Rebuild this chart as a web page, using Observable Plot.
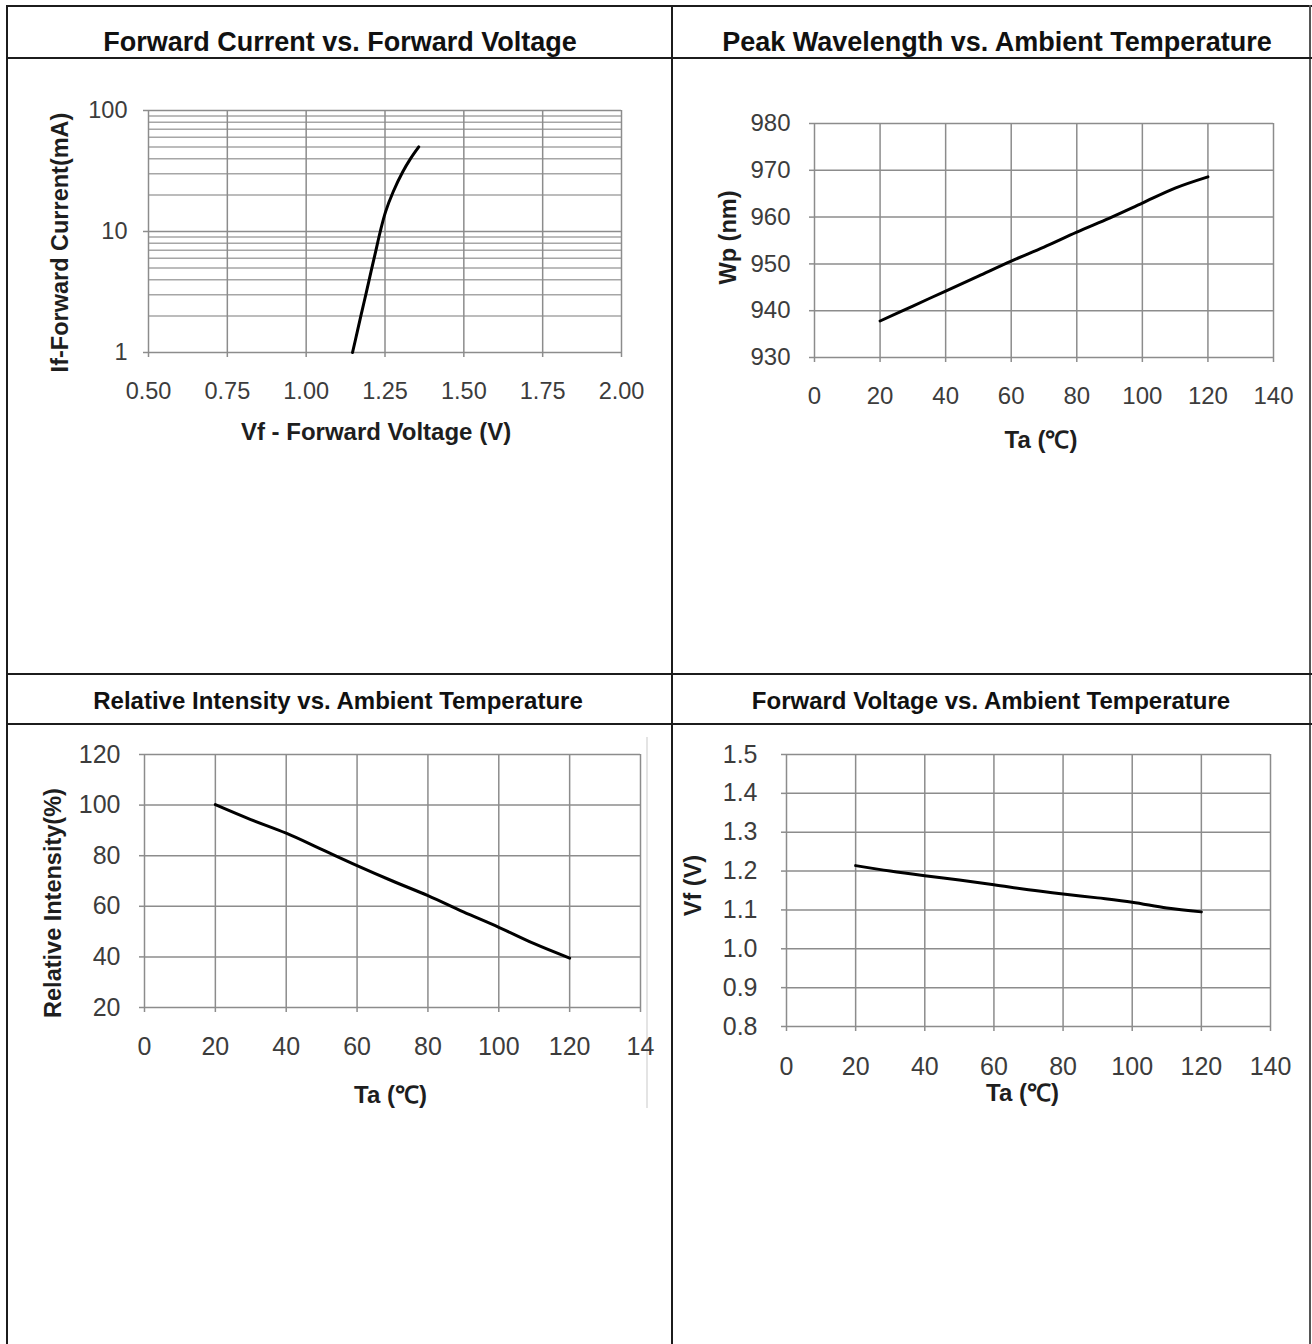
<!DOCTYPE html>
<html>
<head>
<meta charset="utf-8">
<script src="https://cdn.jsdelivr.net/npm/d3@7"></script>
<script src="https://cdn.jsdelivr.net/npm/@observablehq/plot@0.6"></script>
<style>
  body { margin: 0; background: #fff; font-family: "Liberation Sans", Arial, sans-serif; }
  #page { position: relative; width: 1312px; height: 1344px; overflow: hidden; background: #fff; }
  .ln { position: absolute; background: #1c1c1c; }
  .title { position: absolute; font-weight: bold; color: #111; white-space: nowrap;
           transform: translate(-50%, -50%); font-family: "Liberation Sans", Arial, sans-serif; }
  .top { font-size: 27px; }
  .bot { font-size: 24px; }
  .chart { position: absolute; }
</style>
</head>
<body>
<div id="page">
  <div class="ln" style="left:6px;top:5px;width:1306px;height:2px;"></div>
  <div class="ln" style="left:6px;top:5px;width:2px;height:1339px;"></div>
  <div class="ln" style="left:1309px;top:5px;width:2px;height:1339px;background:#555;"></div>
  <div class="ln" style="left:671px;top:5px;width:2px;height:1339px;"></div>
  <div class="ln" style="left:6px;top:57px;width:1306px;height:2px;"></div>
  <div class="ln" style="left:6px;top:673px;width:1306px;height:2px;"></div>
  <div class="ln" style="left:6px;top:723px;width:1306px;height:2px;"></div>
  <div class="ln" style="left:646px;top:737px;width:2px;height:371px;background:#e4e4e4;"></div>
  <div class="title top" style="left:340px;top:42px;">Forward Current vs. Forward Voltage</div>
  <div class="title top" style="left:997px;top:42px;">Peak Wavelength vs. Ambient Temperature</div>
  <div class="title bot" style="left:338px;top:701px;">Relative Intensity vs. Ambient Temperature</div>
  <div class="title bot" style="left:991px;top:701px;">Forward Voltage vs. Ambient Temperature</div>
  <div id="c1" class="chart"></div>
  <div id="c2" class="chart"></div>
  <div id="c3" class="chart"></div>
  <div id="c4" class="chart"></div>
</div>
<script>
// ---------- data ----------
// Chart 1: Forward current vs forward voltage
const ivVoltage = [1.147, 1.1625, 1.177, 1.1915, 1.206, 1.2205, 1.235, 1.252, 1.276, 1.306, 1.331, 1.357];
const ivCurrent = [1, 1.5, 2.2, 3.2, 4.7, 6.85, 10, 14.6, 21.3, 31, 40, 50];
const ivXTicks = [0.5, 0.75, 1.0, 1.25, 1.5, 1.75, 2.0];
const ivYTicks = [1, 10, 100];
const ivYMinor = [2, 3, 4, 5, 6, 7, 8, 9, 20, 30, 40, 50, 60, 70, 80, 90];

// Chart 2: Peak wavelength vs ambient temperature
const wpTemp = [20, 30, 40, 50, 60, 70, 80, 90, 100, 110, 120];
const wpValue = [937.8, 941.0, 944.2, 947.4, 950.6, 953.6, 956.8, 959.8, 963.0, 966.2, 968.6];
const wpXTicks = [0, 20, 40, 60, 80, 100, 120, 140];
const wpYTicks = [930, 940, 950, 960, 970, 980];

// Chart 3: Relative intensity vs ambient temperature
const riTemp = [20, 30, 40, 50, 60, 70, 80, 90, 100, 110, 120];
const riValue = [100.2, 94.3, 88.9, 82.5, 76.1, 70.0, 64.2, 57.8, 51.7, 45.2, 39.5];
const riXTicks = [0, 20, 40, 60, 80, 100, 120, 140];
const riXLabels = ["0", "20", "40", "60", "80", "100", "120", "14"];
const riYTicks = [20, 40, 60, 80, 100, 120];

// Chart 4: Forward voltage vs ambient temperature
const vfTemp = [20, 30, 40, 50, 60, 70, 80, 90, 100, 110, 120];
const vfValue = [1.214, 1.200, 1.188, 1.177, 1.165, 1.152, 1.141, 1.131, 1.120, 1.105, 1.095];
const vfXTicks = [0, 20, 40, 60, 80, 100, 120, 140];
const vfYTicks = [0.8, 0.9, 1.0, 1.1, 1.2, 1.3, 1.4, 1.5];

// ---------- helpers ----------
const FONT = "'Liberation Sans', Arial, sans-serif";
const GRID = "#8c8c8c";
const TICKTXT = "#3c3c3c";

function place(id, box, area, plotOptions) {
  const el = document.getElementById(id);
  el.style.left = box.left + "px";
  el.style.top = box.top + "px";
  const chart = Plot.plot({
    width: box.width,
    height: box.height,
    marginLeft: area.x0 - box.left,
    marginRight: box.left + box.width - area.x1,
    marginTop: area.y0 - box.top,
    marginBottom: box.top + box.height - area.y1,
    style: { fontFamily: FONT, background: "transparent", overflow: "visible" },
    ...plotOptions
  });
  el.appendChild(chart);
}

function axisTitleX(text, dy, dx) {
  return Plot.text([text], { frameAnchor: "bottom", text: d => d, dy, dx,
    textAnchor: "middle", lineAnchor: "middle",
    fontSize: 24, fontWeight: "bold", fill: "#1e1e1e", fontFamily: FONT });
}
function axisTitleY(text, dx, dy) {
  return Plot.text([text], { frameAnchor: "left", text: d => d, dx, dy, rotate: -90,
    textAnchor: "middle", lineAnchor: "middle",
    fontSize: 23.5, fontWeight: "bold", fill: "#1e1e1e", fontFamily: FONT });
}
function axes(xTicks, yTicks, xFmt, yFmt, xPad, yPad, fs) {
  return [
    Plot.axisX(xTicks, { anchor: "bottom", tickSize: 5, tickPadding: xPad, tickFormat: xFmt,
      fontSize: fs, stroke: GRID, strokeWidth: 1.5, fill: TICKTXT, label: null }),
    Plot.axisY(yTicks, { anchor: "left", tickSize: 5, tickPadding: yPad, tickFormat: yFmt,
      fontSize: fs, stroke: GRID, strokeWidth: 1.5, fill: TICKTXT, label: null })
  ];
}
function grids(xTicks, yTicks) {
  return [
    Plot.gridX(xTicks, { stroke: GRID, strokeOpacity: 1, strokeWidth: 1.5 }),
    Plot.gridY(yTicks, { stroke: GRID, strokeOpacity: 1, strokeWidth: 1.5 })
  ];
}

// ---------- chart 1 ----------
const ivData = ivVoltage.map((v, i) => ({ v, i: ivCurrent[i] }));
place("c1", { left: 10, top: 62, width: 655, height: 400 }, { x0: 148, x1: 621, y0: 110, y1: 352 }, {
  x: { domain: [0.5, 2.0] },
  y: { type: "log", domain: [1, 100] },
  marks: [
    Plot.gridY(ivYMinor, { stroke: "#a6a6a6", strokeOpacity: 1, strokeWidth: 1.5 }),
    ...grids(ivXTicks, ivYTicks),
    ...axes(ivXTicks, ivYTicks, d3.format(".2f"), d => String(d), 25, 16, 23.5),
    Plot.line(ivData, { x: "v", y: "i", stroke: "#000", strokeWidth: 3, curve: "catmull-rom" }),
    axisTitleX("Vf - Forward Voltage (V)", 80, -9),
    axisTitleY("If-Forward Current(mA)", -88, 11)
  ]
});

// ---------- chart 2 ----------
const wpData = wpTemp.map((t, i) => ({ t, w: wpValue[i] }));
place("c2", { left: 680, top: 62, width: 625, height: 400 }, { x0: 814, x1: 1273, y0: 123, y1: 357 }, {
  x: { domain: [0, 140] },
  y: { domain: [930, 980] },
  marks: [
    ...grids(wpXTicks, wpYTicks),
    ...axes(wpXTicks, wpYTicks, d => String(d), d => String(d), 24, 19, 24),
    Plot.line(wpData, { x: "t", y: "w", stroke: "#000", strokeWidth: 3, curve: "catmull-rom" }),
    axisTitleX("Ta (℃)", 83, -3),
    axisTitleY("Wp (nm)", -86, -3)
  ]
});

// ---------- chart 3 ----------
const riData = riTemp.map((t, i) => ({ t, r: riValue[i] }));
const riLabelMap = new Map(riXTicks.map((d, i) => [d, riXLabels[i]]));
place("c3", { left: 10, top: 728, width: 655, height: 400 }, { x0: 144, x1: 640, y0: 754, y1: 1007 }, {
  x: { domain: [0, 140] },
  y: { domain: [20, 120] },
  marks: [
    ...grids(riXTicks, riYTicks),
    ...axes(riXTicks, riYTicks, d => riLabelMap.get(d), d => String(d), 25, 19, 25),
    Plot.line(riData, { x: "t", y: "r", stroke: "#000", strokeWidth: 3, curve: "catmull-rom" }),
    axisTitleX("Ta (℃)", 88, -2),
    axisTitleY("Relative Intensity(%)", -91, 22)
  ]
});

// ---------- chart 4 ----------
const vfData = vfTemp.map((t, i) => ({ t, v: vfValue[i] }));
place("c4", { left: 680, top: 728, width: 625, height: 400 }, { x0: 786, x1: 1270, y0: 754, y1: 1026 }, {
  x: { domain: [0, 140] },
  y: { domain: [0.8, 1.5] },
  marks: [
    ...grids(vfXTicks, vfYTicks),
    ...axes(vfXTicks, vfYTicks, d => String(d), d3.format(".1f"), 26, 24, 25),
    Plot.line(vfData, { x: "t", y: "v", stroke: "#000", strokeWidth: 3, curve: "catmull-rom" }),
    axisTitleX("Ta (℃)", 67, -6),
    axisTitleY("Vf (V)", -93, -5)
  ]
});
</script>
</body>
</html>
